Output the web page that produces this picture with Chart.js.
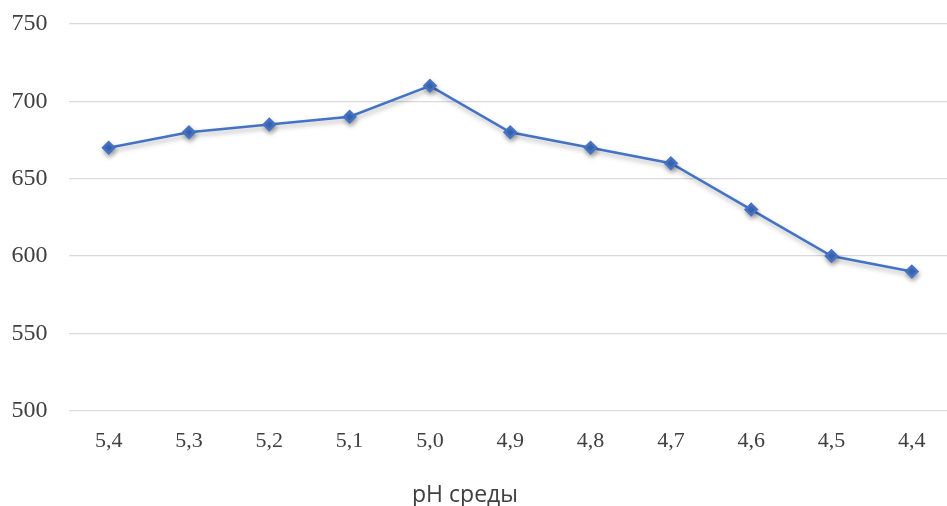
<!DOCTYPE html>
<html>
<head>
<meta charset="utf-8">
<script src="https://cdn.jsdelivr.net/npm/chart.js@4/dist/chart.umd.min.js"></script>
<style>
  html, body { margin: 0; padding: 0; background: #fff; overflow: hidden; }
  #wrap { position: relative; width: 960px; height: 506px; }
  #axisTitle {
    position: absolute; left: 0; width: 930px; top: 482px; line-height: 23px;
    text-align: center; font-family: "Open Sans", sans-serif; font-size: 23px; color: #404040;
  }
</style>
</head>
<body>
<div id="wrap">
  <canvas id="phChart" width="960" height="506"></canvas>
  <div id="axisTitle">pH среды</div>
</div>
<script>
const phLabels = ['5,4', '5,3', '5,2', '5,1', '5,0', '4,9', '4,8', '4,7', '4,6', '4,5', '4,4'];
const values = [670, 680, 685, 690, 710, 680, 670, 660, 630, 600, 590];
const yMin = 500;
const yMax = 750;
const yStep = 50;

// soft drop shadow under the line, like the office chart
const shadowPlugin = {
    id: 'lineShadow',
    beforeDatasetsDraw(chart) {
        const ctx = chart.ctx;
        ctx.save();
        ctx.shadowColor = 'rgba(0, 0, 0, 0.3)';
        ctx.shadowBlur = 5;
        ctx.shadowOffsetX = 1;
        ctx.shadowOffsetY = 3;
    },
    afterDatasetsDraw(chart) {
        chart.ctx.restore();
    }
};

const ctx = document.getElementById('phChart').getContext('2d');

const myChart = new Chart(ctx, {
    type: 'line',
    data: {
        labels: phLabels,
        datasets: [{
            data: values,
            borderColor: '#4472C4',
            backgroundColor: '#4472C4',
            borderWidth: 2.5,
            pointStyle: 'rectRot',
            pointRadius: 5.5,
            tension: 0
        }]
    },
    options: {
        responsive: false,
        animation: false,
        layout: {
            padding: { top: 24, right: 2, bottom: 43, left: 0 }
        },
        plugins: {
            legend: { display: false },
            tooltip: { enabled: false }
        },
        scales: {
            x: {
                offset: true,
                afterFit(scale) { scale.paddingLeft = 0; scale.paddingRight = 0; },
                grid: { display: false },
                border: { display: false },
                ticks: {
                    color: '#404040',
                    padding: 9,
                    font: { family: 'Liberation Serif', size: 22 }
                }
            },
            y: {
                min: yMin,
                max: yMax,
                afterFit(scale) {
                    scale.width = 68.5;
                    scale.paddingTop = 0;
                    scale.paddingBottom = 0;
                },
                grid: { color: '#d9d9d9', lineWidth: 1.3, drawTicks: false },
                border: { display: false },
                ticks: {
                    stepSize: yStep,
                    color: '#404040',
                    padding: 21,
                    font: { family: 'Liberation Serif', size: 24 }
                }
            }
        }
    },
    plugins: [shadowPlugin]
});
</script>
</body>
</html>
